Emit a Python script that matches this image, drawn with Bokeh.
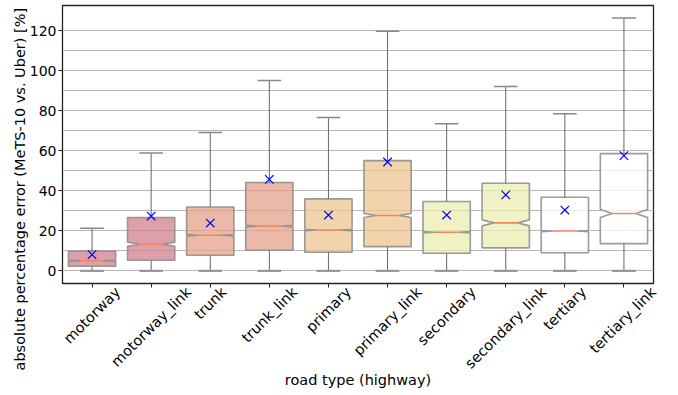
import math
from bokeh.plotting import figure
from bokeh.models import ColumnDataSource, FixedTicker, Range1d, LinearAxis, Title
from bokeh.embed import file_html
from bokeh.resources import INLINE

# ---------------- data ----------------
categories = ["motorway", "motorway_link", "trunk", "trunk_link", "primary",
              "primary_link", "secondary", "secondary_link", "tertiary", "tertiary_link"]
whisker_lo = [0, 0, 0, 0, 0, 0, 0, 0, 0, 0]
q1 = [2.3, 5.3, 7.8, 10.3, 9.3, 12.1, 8.8, 11.5, 9.1, 13.6]
median = [5.1, 13.3, 17.8, 22.4, 20.4, 27.7, 19.3, 24.0, 19.9, 28.7]
notch_lo = [4.8, 12.3, 17.5, 22.0, 20.1, 26.7, 19.0, 22.5, 19.6, 26.7]
notch_hi = [5.4, 14.3, 18.1, 22.8, 20.7, 28.7, 19.6, 25.5, 20.2, 30.7]
q3 = [9.8, 26.7, 31.9, 44.2, 36.0, 55.1, 34.7, 43.8, 36.8, 58.6]
whisker_hi = [21.3, 58.9, 69.1, 95.1, 76.7, 119.7, 73.5, 92.1, 78.5, 126.3]
mean = [8.1, 27.4, 23.9, 45.7, 27.9, 54.4, 27.9, 38.0, 30.4, 57.6]
fill_colors = ["#d2808e", "#d2808e", "#e6a28b", "#e6a28b", "#ecc690",
               "#ecc690", "#ebeeb3", "#ebeeb3", "#ffffff", "#ffffff"]
y_ticks = [0, 20, 40, 60, 80, 100, 120]
grid_values = [0, 10, 20, 30, 40, 50, 60, 70, 80, 90, 100, 110, 120]
x_title = "road type (highway)"
y_title = "absolute percentage error (MeTS-10 vs. Uber) [%]"

# ---------------- layout ----------------
W, H = 678, 395
BL, BR, BT, BB = 62, 25, 5, 112
FW, FH = W - BL - BR, H - BT - BB
xmin, xmax = 0.5, len(categories) + 0.5
ymin, ymax = -6.3, 132.6
ppu_x = FW / (xmax - xmin)
FONT = "DejaVu Sans"

p = figure(width=W, height=H, x_range=Range1d(xmin, xmax), y_range=Range1d(ymin, ymax),
           min_border_left=BL, min_border_right=BR, min_border_top=BT, min_border_bottom=BB,
           output_backend="svg", toolbar_location=None, tools="")
p.background_fill_color = "white"
p.border_fill_color = "white"
p.outline_line_color = "#222222"
p.outline_line_width = 1.3

positions = list(range(1, len(categories) + 1))
bw = 0.8
inset = bw / 4.0

# boxes (notched polygons)
xs, ys = [], []
for i, pos in enumerate(positions):
    l, r = pos - bw / 2, pos + bw / 2
    cl, cr = pos - inset, pos + inset
    xs.append([l, r, r, cr, r, r, l, l, cl, l])
    ys.append([q1[i], q1[i], notch_lo[i], median[i], notch_hi[i], q3[i], q3[i],
               notch_hi[i], median[i], notch_lo[i]])
box_src = ColumnDataSource(dict(xs=xs, ys=ys, color=fill_colors))
p.patches("xs", "ys", source=box_src, fill_color="color", fill_alpha=0.75,
          line_color="#8a8a8a", line_alpha=0.85, line_width=1.6)

src = ColumnDataSource(dict(
    x=positions, q1=q1, q3=q3, med=median, lo=whisker_lo, hi=whisker_hi, mean=mean,
    cl=[x - inset for x in positions], cr=[x + inset for x in positions],
))
p.segment(x0="x", y0="q3", x1="x", y1="hi", source=src, line_color="#666666", line_width=1)
p.segment(x0="x", y0="q1", x1="x", y1="lo", source=src, line_color="#666666", line_width=1)
p.segment(x0="cl", y0="hi", x1="cr", y1="hi", source=src, line_color="#888888", line_width=1.5)
p.segment(x0="cl", y0="lo", x1="cr", y1="lo", source=src, line_color="#999999", line_width=2.2)
p.segment(x0="cl", y0="med", x1="cr", y1="med", source=src, line_color="#f4845a", line_width=1.6)
p.scatter("x", "mean", source=src, marker="x", size=12, line_color="#0000ff", line_width=1.2)

# grid / y axis
p.xgrid.visible = False
p.ygrid.ticker = FixedTicker(ticks=grid_values)
p.ygrid.grid_line_color = "#b8b8b8"
p.ygrid.grid_line_width = 1.2

p.yaxis.ticker = FixedTicker(ticks=y_ticks)
p.yaxis.minor_tick_line_color = None
p.yaxis.major_tick_out = 4
p.yaxis.major_tick_in = 0
p.yaxis.major_label_standoff = 2
p.yaxis.major_label_text_font = FONT
p.yaxis.major_label_text_font_size = "14px"
p.yaxis.major_label_text_color = "black"
p.yaxis.axis_line_color = "#222222"
p.yaxis.major_tick_line_color = "#222222"

# main x axis: tick marks only (its own labels are not drawn)
p.xaxis.ticker = FixedTicker(ticks=positions)
p.xaxis.minor_tick_line_color = None
p.xaxis.major_tick_out = 4
p.xaxis.major_tick_in = 0
p.xaxis.major_label_standoff = 0
p.xaxis.major_label_text_font_size = "1px"
p.xaxis.major_label_text_color = None
p.xaxis.axis_line_color = "#222222"
p.xaxis.major_tick_line_color = "#222222"

# label axis: rotated category names centred under the ticks (matplotlib style)
CW = {"m": .974, "o": .612, "t": .392, "r": .411, "w": .818, "a": .613, "y": .592,
      "_": .500, "l": .278, "i": .278, "n": .634, "k": .579, "u": .634, "p": .635,
      "s": .521, "e": .615, "c": .550, "d": .635}
fs = 14.5
label_ticks, overrides = [], {}
for pos, c in zip(positions, categories):
    L = sum(CW.get(ch, 0.6) for ch in c) * fs
    t = pos + (L / 2) * math.sqrt(0.5) / ppu_x
    t = round(min(t, xmax - 0.0005), 4)
    label_ticks.append(t)
    overrides[t] = c
lab_axis = LinearAxis(ticker=FixedTicker(ticks=label_ticks), major_label_overrides=overrides)
lab_axis.axis_line_color = None
lab_axis.major_tick_line_color = None
lab_axis.minor_tick_line_color = None
lab_axis.major_tick_out = 0
lab_axis.major_tick_in = 0
lab_axis.major_label_standoff = 2
lab_axis.major_label_orientation = math.pi / 4
lab_axis.major_label_text_font = FONT
lab_axis.major_label_text_font_size = "14.5px"
lab_axis.major_label_text_color = "black"
lab_axis.axis_label = x_title
lab_axis.axis_label_standoff = -8
lab_axis.axis_label_text_font = FONT
lab_axis.axis_label_text_font_size = "14.5px"
lab_axis.axis_label_text_font_style = "normal"
lab_axis.axis_label_text_color = "black"
p.add_layout(lab_axis, "below")

# y title: starts below the frame bottom, as in the reference
p.add_layout(Title(text=y_title, align="left", offset=(H - BB) - 370, text_font=FONT,
                   text_font_size="14.5px", text_font_style="normal", text_color="black",
                   standoff=-3), "left")

open("out.html", "w").write(file_html(p, INLINE))
